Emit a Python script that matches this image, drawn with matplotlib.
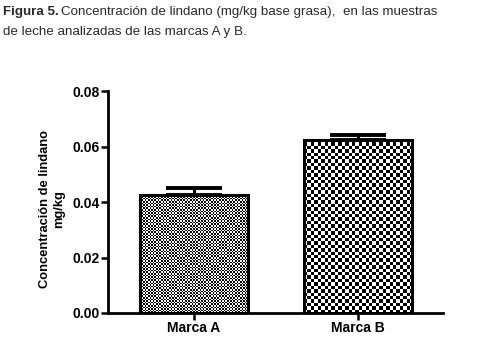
import numpy as np
import matplotlib.pyplot as plt

# data
marcas = ["Marca A", "Marca B"]
medias = [0.0425, 0.0625]
errores = [0.0027, 0.0015]
yticks = [0.00, 0.02, 0.04, 0.06, 0.08]
ytick_labels = ["0.00", "0.02", "0.04", "0.06", "0.08"]

fig = plt.figure(figsize=(4.98, 3.43), dpi=100)
ax = fig.add_axes([0.217, 0.0875, 0.673, 0.647])

x = np.arange(len(marcas))
width = 0.66
bars = ax.bar(x, medias, width=width, facecolor="none", edgecolor="black",
              linewidth=2.2, zorder=3)

# checkerboard fill, fine for A, coarse for B (cell size in pixels)
cell_px = [1.6, 3.4]
px_per_unit_x = 164.0
px_per_unit_y = 222.0 / 0.08
for b, c in zip(bars, cell_px):
    wpx = b.get_width() * px_per_unit_x
    hpx = b.get_height() * px_per_unit_y
    nx, ny = int(wpx / c) + 1, int(hpx / c) + 1
    board = (np.add.outer(np.arange(ny), np.arange(nx)) % 2).astype(float)
    x0 = b.get_x()
    im = ax.imshow(board, cmap="gray", interpolation="nearest", aspect="auto",
                   extent=(x0, x0 + nx * c / px_per_unit_x, 0, ny * c / px_per_unit_y),
                   zorder=2)
    im.set_clip_path(b)

ax.errorbar(x, medias, yerr=[np.zeros(2), errores], fmt="none", ecolor="black",
            elinewidth=2.2, capsize=20, capthick=2.8, zorder=4)

ax.set_xlim(-0.524, 1.518)
ax.set_ylim(0, 0.08)
ax.set_yticks(yticks)
ax.set_yticklabels(ytick_labels)
ax.set_xticks(x)
ax.set_xticklabels(marcas)
for lab in ax.get_xticklabels() + ax.get_yticklabels():
    lab.set_fontweight("bold")
    lab.set_fontsize(10)
    lab.set_family("Liberation Sans")
ax.tick_params(axis="both", width=1.8, length=5, pad=1)
ax.spines["top"].set_visible(False)
ax.spines["right"].set_visible(False)
ax.spines["left"].set_linewidth(2)
ax.spines["bottom"].set_linewidth(2)
ax.set_ylabel("Concentración de lindano\nmg/kg", fontsize=9.3, fontweight="bold",
              family="Liberation Sans", linespacing=1.25)
ax.yaxis.set_label_coords(-0.128, 0.47)

title_font = "Liberation Sans"
t1 = fig.text(0.006, 0.955, "Figura 5.", fontsize=9.6, fontweight="bold",
              family=title_font, color="#2a2a2a", va="baseline")
renderer = fig.canvas.get_renderer()
bb = t1.get_window_extent(renderer)
fig.text(bb.x1 / fig.bbox.width + 0.005, 0.955,
         "Concentración de lindano (mg/kg base grasa),  en las muestras",
         fontsize=9.6, family=title_font, color="#2a2a2a", va="baseline")
fig.text(0.006, 0.898, "de leche analizadas de las marcas A y B.",
         fontsize=9.6, family=title_font, color="#2a2a2a", va="baseline")

fig.savefig("out.png", dpi=100)
